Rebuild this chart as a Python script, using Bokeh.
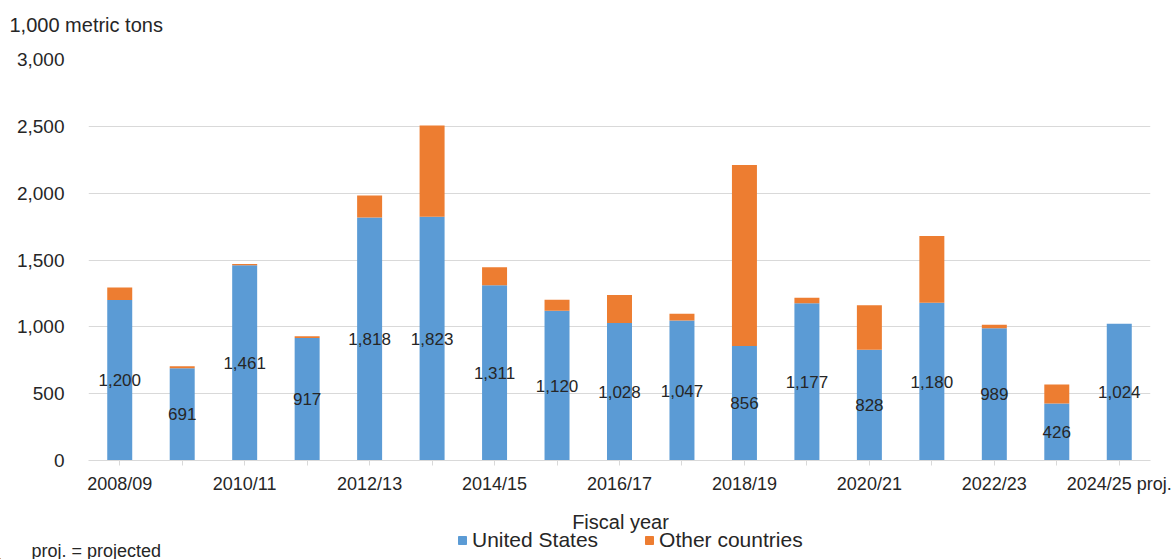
from bokeh.plotting import figure
from bokeh.layouts import column
from bokeh.models import (ColumnDataSource, Range1d, FixedTicker, Legend, LegendItem,
                          Label, NumeralTickFormatter)
from bokeh.core.properties import value
from bokeh.embed import file_html
from bokeh.resources import INLINE

# Fiscal years and exports (1,000 metric tons)
years = ["2008/09", "2009/10", "2010/11", "2011/12", "2012/13", "2013/14", "2014/15",
         "2015/16", "2016/17", "2017/18", "2018/19", "2019/20", "2020/21", "2021/22",
         "2022/23", "2023/24", "2024/25 proj."]
united_states = [1200, 691, 1461, 917, 1818, 1823, 1311, 1120, 1028, 1047, 856, 1177,
                 828, 1180, 989, 426, 1024]
other_countries = [95, 14, 9, 13, 164, 683, 134, 82, 211, 50, 1355, 40, 334, 500, 26, 142, 0]
y_ticks = [0, 500, 1000, 1500, 2000, 2500, 3000]

FONT = "Liberation Sans"
TEXT = "#262626"
GRID = "#D9D9D9"
BLUE = "#5B9BD5"
ORANGE = "#ED7D31"
W = 1172


def strip(height):
    """A bare, full-width figure used for the text rows above and below the chart."""
    f = figure(width=W, height=height, x_range=Range1d(0, W), y_range=Range1d(0, height),
               output_backend="svg", toolbar_location=None, x_axis_type=None,
               y_axis_type=None, min_border=0, min_border_left=0, min_border_right=0,
               min_border_top=0, min_border_bottom=0)
    f.frame_align = False
    f.outline_line_color = None
    f.xgrid.grid_line_color = None
    f.ygrid.grid_line_color = None
    f.background_fill_color = "white"
    f.border_fill_color = "white"
    return f


xs = list(range(len(years)))
source = ColumnDataSource(dict(
    x=xs,
    us=united_states,
    other=other_countries,
    label_y=[v / 2 for v in united_states],
    label=[f"{v:,}" for v in united_states],
))

# ---- unit row ----
top = strip(40)
top.add_layout(Label(x=9, y=16, text="1,000 metric tons", text_align="left",
                     text_baseline="middle", text_font=FONT, text_font_size="20px",
                     text_color=TEXT))

# ---- main chart ----
p = figure(width=W, height=460, x_range=Range1d(-0.5, 16.5), y_range=Range1d(0, 3000),
           output_backend="svg", toolbar_location=None,
           min_border_left=88, min_border_right=22, min_border_top=19, min_border_bottom=40)
p.frame_align = False
p.outline_line_color = None
p.background_fill_color = "white"
p.border_fill_color = "white"

p.vbar_stack(["us", "other"], x="x", width=0.4, color=[BLUE, ORANGE],
             source=source, line_color=None)

p.text(x="x", y="label_y", text="label", source=source, text_align="center",
       text_baseline="middle", text_font=value(FONT), text_font_size="17px",
       text_color=TEXT)

p.xgrid.grid_line_color = None
p.ygrid.grid_line_color = GRID
p.ygrid.grid_line_width = 1

p.yaxis.ticker = FixedTicker(ticks=y_ticks)
p.yaxis.formatter = NumeralTickFormatter(format="0,0")
p.yaxis.axis_line_color = None
p.yaxis.major_tick_line_color = None
p.yaxis.minor_tick_line_color = None
p.yaxis.major_label_standoff = 18
p.yaxis.major_label_text_font = FONT
p.yaxis.major_label_text_font_size = "19px"
p.yaxis.major_label_text_color = TEXT

p.xaxis.ticker = FixedTicker(ticks=xs)
p.xaxis.major_label_overrides = {i: (years[i] if i % 2 == 0 else "") for i in xs}
p.xaxis.axis_line_color = GRID
p.xaxis.major_tick_line_color = GRID
p.xaxis.major_tick_out = 5
p.xaxis.major_tick_in = 0
p.xaxis.minor_tick_line_color = None
p.xaxis.major_label_standoff = 8
p.xaxis.major_label_text_font = FONT
p.xaxis.major_label_text_font_size = "18px"
p.xaxis.major_label_text_color = TEXT

# ---- axis title, legend and note ----
s = strip(59)

# legend keys (placed off the visible range; only their swatches are shown)
key_us = s.vbar(x=[-100], top=[1], width=1, color=BLUE)
key_other = s.vbar(x=[-100], top=[1], width=1, color=ORANGE)

s.add_layout(Label(x=620, y=38, text="Fiscal year", text_align="center",
                   text_baseline="middle", text_font=FONT, text_font_size="20px",
                   text_color=TEXT))
s.add_layout(Label(x=31, y=9, text="proj. = projected", text_align="left",
                   text_baseline="middle", text_font=FONT, text_font_size="18px",
                   text_color=TEXT))

legend = Legend(items=[LegendItem(label="United States", renderers=[key_us]),
                       LegendItem(label="Other countries", renderers=[key_other])],
                orientation="horizontal", location=(457, 7),
                border_line_color=None, background_fill_alpha=0,
                label_text_font=FONT, label_text_font_size="21px", label_text_color=TEXT,
                glyph_width=10, glyph_height=10, label_standoff=5, spacing=46,
                padding=0, margin=0)
s.add_layout(legend, "center")

open("out.html", "w").write(file_html(column(top, p, s, spacing=0), INLINE))
